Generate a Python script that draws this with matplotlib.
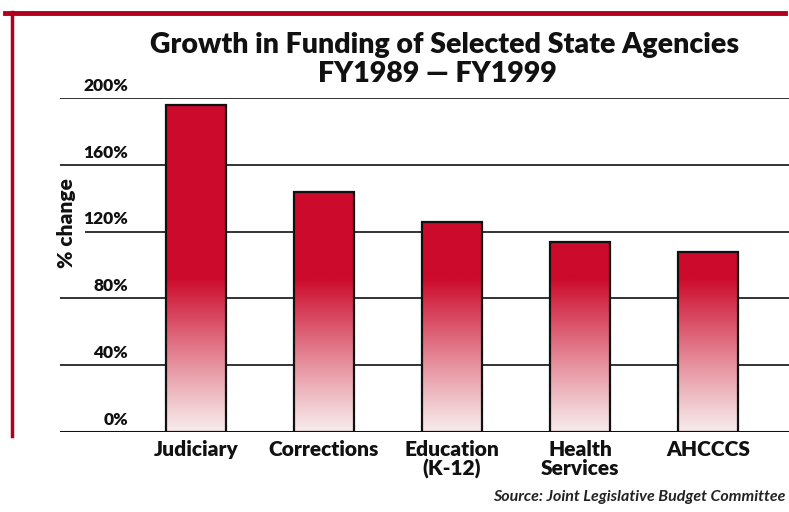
import numpy as np
import matplotlib.pyplot as plt
from matplotlib.lines import Line2D

# data
agencies = ['Judiciary', 'Corrections', 'Education\n(K-12)', 'Health\nServices', 'AHCCCS']
growth = [196, 144, 126, 114, 108]  # % change FY1989-FY1999
yticks = [0, 40, 80, 120, 160, 200]

plt.rcParams['font.family'] = ['Lato', 'DejaVu Sans']

fig = plt.figure(figsize=(7.89, 5.12), dpi=100)
ax = fig.add_axes([60 / 789, 1 - 432 / 512, 1 - 60 / 789, (432 - 98) / 512])

red = np.array([0.80, 0.04, 0.17])
pale = np.array([0.97, 0.92, 0.92])
width = 0.47
x = np.arange(len(agencies))

for xi, h in zip(x, growth):
    v = np.linspace(h, 0, 200)
    t = np.clip(v / 92.0, 0, 1) ** 1.1
    col = pale[None, :] + (red - pale)[None, :] * t[:, None]
    img = np.repeat(col[:, None, :], 2, axis=1)
    ax.imshow(img, extent=[xi - width / 2, xi + width / 2, 0, h], aspect='auto',
              interpolation='bilinear', zorder=3)
    ax.bar(xi, h, width=width, facecolor='none', edgecolor='#111111', linewidth=1.6, zorder=4)

ax.set_xlim(-1.06, 4.63)
ax.set_ylim(0, 200)

# gridlines with labels sitting above them
for yv in yticks:
    lw = 2.2 if yv == 0 else 1.4
    start = 0.035 if yv == 120 else 0.0  # 120% line starts after the axis label
    ax.axhline(yv, xmin=start, color='#333333' if yv else '#111111', linewidth=lw, zorder=2)
    ax.text(-0.53, yv + 2.5, f'{yv}%', ha='right', va='bottom', fontsize=12.5,
            fontweight='heavy', color='#111111')

ax.text(-1.01, 125, '% change', rotation=90, ha='center', va='center', fontsize=15,
        fontweight='heavy', color='#111111')

for s in ax.spines.values():
    s.set_visible(False)
ax.set_xticks(x)
ax.set_xticklabels(agencies, fontsize=15, fontweight='heavy', color='#111111',
                   linespacing=1.0)
ax.tick_params(axis='x', length=0, pad=6)
ax.set_yticks([])

fig.text(445 / 789, 1 - 45 / 512, 'Growth in Funding of Selected State Agencies',
         ha='center', va='center', fontsize=20.5, fontweight='heavy', color='#111111')
fig.text(437 / 789, 1 - 74 / 512, 'FY1989 — FY1999', ha='center', va='center',
         fontsize=20.5, fontweight='heavy', color='#111111')
fig.text(785 / 789, 1 - 497 / 512, 'Source: Joint Legislative Budget Committee',
         ha='right', va='center', fontsize=11.5, fontweight='bold', style='italic',
         color='#222222')

# red frame on top and left
fig.add_artist(Line2D([5 / 789, 785 / 789], [1 - 13 / 512, 1 - 13 / 512],
                      color='#B0001E', linewidth=3.5))
fig.add_artist(Line2D([12 / 789, 12 / 789], [1 - 12 / 512, 1 - 436 / 512],
                      color='#B0001E', linewidth=2.5))

fig.savefig('out.png', dpi=100)
